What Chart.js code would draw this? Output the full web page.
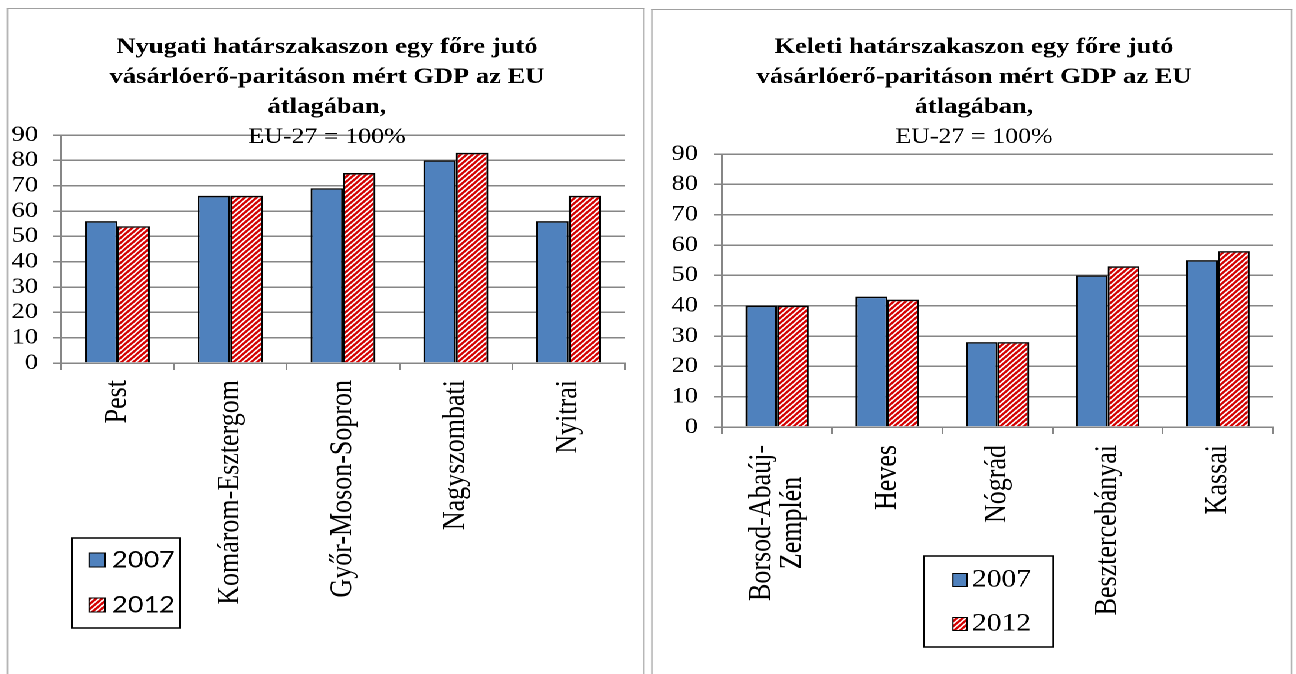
<!DOCTYPE html>
<html lang="hu">
<head>
<meta charset="utf-8">
<title>GDP az EU átlagában</title>
<script src="https://cdn.jsdelivr.net/npm/chart.js@4.4.1/dist/chart.umd.min.js"></script>
<style>
  html, body { margin: 0; padding: 0; background: #fff; overflow: hidden; }
  /* az eredeti kép vízszintesen nyújtott, ezért az egészet 1.18-szorosra húzzuk */
  #lap { position: absolute; left: 0; top: 0; width: 1098.3px; height: 674px; transform: scaleX(1.18); transform-origin: 0 0; }
  .doboz { position: absolute; top: 0; height: 674px; }
  .keret { position: absolute; border: 1.5px solid #a0a0a0; border-bottom: none; height: 700px; pointer-events: none; }
</style>
</head>
<body>
<div id="lap">
  <div class="doboz" style="left:0;width:549px"><canvas id="nyugati"></canvas></div>
  <div class="doboz" style="left:549px;width:549.3px"><canvas id="keleti"></canvas></div>
  <div class="keret" style="left:5.6px;top:8.3px;width:538px"></div>
  <div class="keret" style="left:551.8px;top:9.3px;width:541.7px"></div>
</div>
<script>
const nyugatiMegyek = ["Pest", "Komárom-Esztergom", "Győr-Moson-Sopron", "Nagyszombati", "Nyitrai"];
const nyugati2007 = [56, 66, 69, 80, 56];
const nyugati2012 = [54, 66, 75, 83, 66];

const keletiMegyek = [["Borsod-Abaúj-", "Zemplén"], "Heves", "Nógrád", "Besztercebányai", "Kassai"];
const keleti2007 = [40, 43, 28, 50, 55];
const keleti2012 = [40, 42, 28, 53, 58];

const evek = ["2007", "2012"];
const yMax = 90;
const yLepes = 10;

const nyugatiCim = ["Nyugati határszakaszon egy főre jutó", "vásárlóerő-paritáson mért GDP az EU", "átlagában,", "EU-27 = 100%"];
const keletiCim = ["Keleti határszakaszon egy főre jutó", "vásárlóerő-paritáson mért GDP az EU", "átlagában,", "EU-27 = 100%"];

const serif = "'Liberation Serif', 'Times New Roman', serif";
const racsSzin = "#868686";
const kek = "#4F81BD";

function csikosMinta() {
  const T = 5, k = 2, m = T * k;
  const c = document.createElement("canvas");
  c.width = m; c.height = m;
  const g = c.getContext("2d");
  g.fillStyle = "#fff";
  g.fillRect(0, 0, m, m);
  g.strokeStyle = "#d40000";
  g.lineWidth = 0.6 * m / Math.SQRT2;
  g.beginPath();
  for (let i = 0; i <= 2; i++) {
    g.moveTo(-m, i * m + m);
    g.lineTo(i * m + m, -m);
  }
  g.stroke();
  const p = document.createElement("canvas").getContext("2d").createPattern(c, "repeat");
  p.setTransform(new DOMMatrix([1 / k, 0, 0, 1 / k, 0, 0]));
  return p;
}
const piros = csikosMinta();

// cím és jelmagyarázat rajzolása
const feliratPlugin = {
  id: "felirat",
  afterDraw(chart, args, opts) {
    const ctx = chart.ctx;
    ctx.save();
    ctx.fillStyle = "#000";
    ctx.textAlign = "center";
    ctx.textBaseline = "alphabetic";
    opts.cim.forEach((sor, i) => {
      const utolso = i === opts.cim.length - 1;
      ctx.font = (utolso ? "" : "bold ") + (utolso ? 22 : 22.5) + "px " + serif;
      ctx.fillText(sor, opts.cimX, 53 + i * 30);
    });

    const lg = opts.jm;
    ctx.fillStyle = "#fff";
    ctx.fillRect(lg.x, lg.y, lg.w, lg.h);
    ctx.strokeStyle = "#000";
    ctx.lineWidth = 1.5;
    ctx.strokeRect(lg.x, lg.y, lg.w, lg.h);
    chart.data.datasets.forEach((ds, i) => {
      const cy = lg.sorok[i];
      ctx.fillStyle = ds.backgroundColor;
      ctx.fillRect(lg.mx, cy - lg.mm / 2, lg.mw, lg.mm);
      ctx.lineWidth = 1;
      ctx.strokeRect(lg.mx, cy - lg.mm / 2, lg.mw, lg.mm);
      ctx.fillStyle = "#000";
      ctx.font = lg.betu;
      ctx.textAlign = "left";
      ctx.textBaseline = "middle";
      ctx.fillText(ds.label, lg.tx, cy);
    });
    ctx.restore();
  }
};

// többsoros tengelyfelirat középre igazítása, mint az eredetin
const kozeprePlugin = {
  id: "kozepre",
  beforeDraw(chart) {
    const ctx = chart.ctx;
    chart.scales.x.getLabelItems(chart.chartArea).forEach(it => {
      if (it._kozepre || !Array.isArray(it.label) || it.label.length < 2) return;
      ctx.font = it.font.string;
      const w = Math.max(...it.label.map(s => ctx.measureText(s).width));
      it.options.textAlign = "center";
      it.options.translation[1] += w / 2;
      it.options.translation[0] -= it.font.lineHeight * (it.label.length - 1) / 2;
      it._kozepre = true;
    });
  }
};

function grafikon(id, megyek, adat07, adat12, cim, b) {
  new Chart(document.getElementById(id), {
    type: "bar",
    data: {
      labels: megyek,
      datasets: [
        { label: evek[0], data: adat07, backgroundColor: kek, borderColor: "#000", borderWidth: 1.6 },
        { label: evek[1], data: adat12, backgroundColor: piros, borderColor: "#000", borderWidth: 1.6 }
      ]
    },
    options: {
      responsive: true,
      maintainAspectRatio: false,
      animation: false,
      devicePixelRatio: 2,
      categoryPercentage: 0.575,
      barPercentage: 1,
      layout: { padding: { left: b.balra, right: b.jobbra, top: b.teteje, bottom: 0 } },
      plugins: {
        legend: { display: false },
        title: { display: false },
        tooltip: { enabled: false },
        felirat: { cim: cim, cimX: b.cimX, jm: b.jm }
      },
      scales: {
        x: {
          grid: { display: true, drawOnChartArea: false, drawTicks: true, tickLength: 7, color: racsSzin, lineWidth: 1.5, offset: true },
          border: { display: true, color: racsSzin, width: 1.5 },
          ticks: {
            color: "#000",
            font: { family: serif, size: 26, lineHeight: 1.0 },
            minRotation: 90,
            maxRotation: 90,
            autoSkip: false,
            padding: b.xPad
          },
          afterFit: s => { s.height = b.xMag; }
        },
        y: {
          min: 0,
          max: yMax,
          ticks: {
            stepSize: yLepes,
            autoSkip: false,
            color: "#000",
            font: { family: serif, size: 22.5, lineHeight: 1.0 },
            padding: b.yPad
          },
          grid: { color: racsSzin, lineWidth: 1.5, tickLength: 6.8 },
          border: { color: racsSzin, width: 1.5 },
          afterFit: s => { s.width = 45; }
        }
      }
    },
    plugins: [feliratPlugin, kozeprePlugin]
  });
}

grafikon("nyugati", nyugatiMegyek, nyugati2007, nyugati2012, nyugatiCim, {
  balra: 6.7, jobbra: 19.3, teteje: 135, xMag: 311, xPad: 10, yPad: 12.7, cimX: 277.1,
  jm: { x: 61, y: 538, w: 91.5, h: 90, sorok: [560, 605], mx: 75.4, mw: 13.6, mm: 14, tx: 94.9, betu: "23px Lato, 'Open Sans', sans-serif" }
});

grafikon("keleti", keletiMegyek, keleti2007, keleti2012, keletiCim, {
  balra: 17.9, jobbra: 19.5, teteje: 154, xMag: 247, xPad: 11, yPad: 13.6, cimX: 276.4,
  jm: { x: 234.1, y: 556, w: 109.3, h: 91, sorok: [580, 624], mx: 258.6, mw: 11.9, mm: 13, tx: 274.7, betu: "25px " + serif }
});
</script>
</body>
</html>
